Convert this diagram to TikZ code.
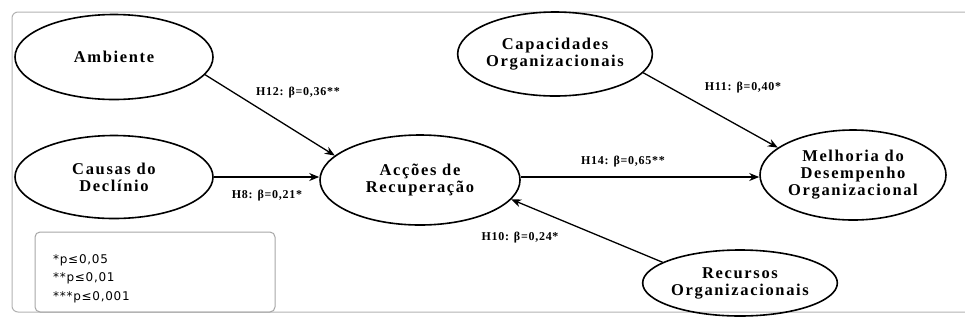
\documentclass[tikz,border=0pt]{standalone}
\usepackage{fontspec}
\setmainfont{Liberation Serif}
\newfontfamily\namefont[LetterSpace=10]{Liberation Serif}
\newfontfamily\coeffont[LetterSpace=6]{Liberation Serif}
\newfontfamily\legendfont[LetterSpace=6]{DejaVu Sans}
\usetikzlibrary{arrows.meta,shapes.geometric}
\begin{document}
\begin{tikzpicture}[x=1pt,y=-1pt,
  construct/.style={draw=black,line width=1.6pt,ellipse,inner sep=0pt,
    font=\namefont\bfseries\fontsize{16.5}{17}\selectfont,align=center},
  path/.style={draw=black,line width=1.3pt,-{Stealth[length=10pt,width=8pt]}},
  coef/.style={font=\coeffont\bfseries\fontsize{12}{13}\selectfont,inner sep=1pt}]
  \useasboundingbox (0,0) rectangle (965,325);
  \clip (0,0) rectangle (965,325);
  % outer frame
  \draw[black!30,line width=1pt,rounded corners=6pt] (12,12) rectangle (985,312);

  % constructs
  \node[construct,minimum width=198pt,minimum height=85pt] (amb) at (114,57) {Ambiente};
  \node[construct,minimum width=198pt,minimum height=83pt] (cau) at (114,177) {Causas do\\Declínio};
  \node[construct,minimum width=200pt,minimum height=90pt] (acc) at (420,180) {Acções de\\Recuperação};
  \node[construct,minimum width=190pt,minimum height=84pt] (cap) at (555,54) {Capacidades\\Organizacionais};
  \node[construct,minimum width=186pt,minimum height=90pt] (mel) at (853,175) {Melhoria do\\Desempenho\\Organizacional};
  \node[construct,minimum width=190pt,minimum height=66pt] (rec) at (740,283) {Recursos\\Organizacionais};

  % structural paths
  \draw[path] (amb.-11) -- (acc.164);
  \draw[path] (cau.east |- 0,177) -- (acc.west |- 0,177);
  \draw[path] (acc.east |- 0,177) -- (mel.west |- 0,177);
  \draw[path] (cap.-12) -- (mel.160);
  \draw[path] (rec.165) -- (acc.-12);

  % coefficients
  \node[coef] (l1) at (298,93) {H12: β=0,36**};
  \node[coef] (l2) at (267,196) {H8: β=0,21*};
  \node[coef] (l3) at (623,162) {H14: β=0,65**};
  \node[coef] (l4) at (743,88) {H11: β=0,40*};
  \node[coef] (l5) at (520,238) {H10: β=0,24*};

  % significance legend
  \node[draw=black!35,line width=1pt,rounded corners=5pt,minimum width=240pt,minimum height=80pt] (leg) at (155,272) {};
  \node[font=\legendfont\fontsize{12}{18.5}\selectfont,align=left,anchor=north west,inner sep=0pt] (legt) at (53,254)
    {*p≤0,05\\**p≤0,01\\***p≤0,001};
\end{tikzpicture}
\end{document}
